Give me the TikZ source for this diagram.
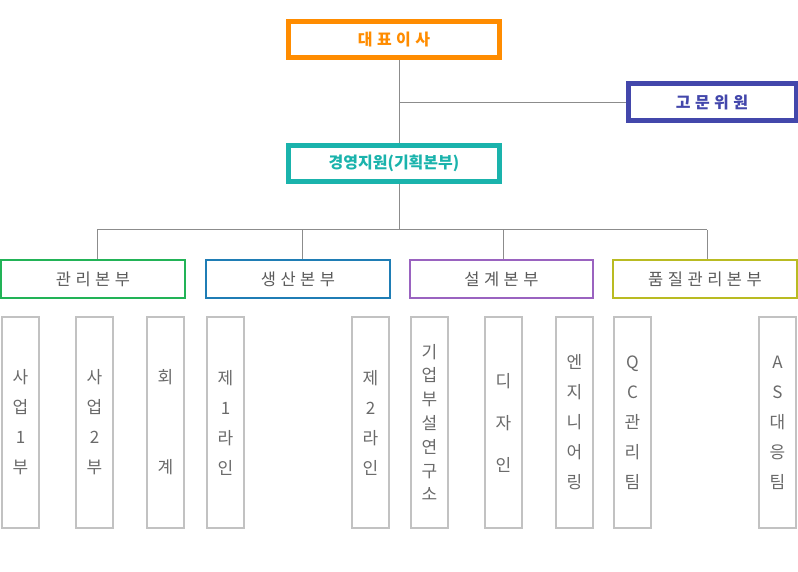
\documentclass[tikz,border=0pt]{standalone}
\usepackage{fontspec}
\newfontfamily\kr{Noto Sans CJK KR}
\definecolor{cOrange}{HTML}{FF8C00}
\definecolor{cNavy}{HTML}{4347AB}
\definecolor{cTeal}{HTML}{1AB3AC}
\definecolor{cGreen}{HTML}{22B357}
\definecolor{cBlue}{HTML}{1F7DB5}
\definecolor{cPurple}{HTML}{9A63C0}
\definecolor{cOlive}{HTML}{B9BB22}
\definecolor{cLine}{HTML}{8C8C8C}
\definecolor{cBox}{HTML}{C2C2C2}
\definecolor{cText}{HTML}{5A5A5A}
\definecolor{cLeafText}{HTML}{6A6A6A}
\tikzset{
  topbox/.style={draw, line width=5pt, rectangle, inner sep=0pt, minimum width=211pt, minimum height=36pt, font=\kr\bfseries\fontsize{16}{19}\selectfont},
  divbox/.style={draw, line width=2pt, rectangle, inner sep=0pt, minimum width=184pt, minimum height=38pt, text=cText, font=\kr\fontsize{16.5}{19}\selectfont},
  leafbox/.style={draw=cBox, line width=2pt, rectangle, inner sep=0pt, minimum width=37pt, minimum height=211pt, text=cLeafText, align=center},
  conn/.style={draw=cLine, line width=1pt},
}
\newcommand{\gsp}{\hspace{4.5pt}}
\begin{document}
\begin{tikzpicture}[x=1pt,y=-1pt]
\useasboundingbox (0,0) rectangle (798,572);
% top
\node[topbox, draw=cOrange, text=cOrange] (ceo) at (394,39.5) {대\gsp 표\gsp 이\gsp 사};
\node[topbox, draw=cNavy, text=cNavy, minimum width=168pt, minimum height=37pt] (adv) at (712,102.5) {고\gsp 문\gsp 위\gsp 원};
\node[topbox, draw=cTeal, text=cTeal] (mgmt) at (394,163.5) {경영지원(기획본부)};
% divisions
\node[divbox, draw=cGreen] (d1) at (93,279) {관\gsp 리\gsp 본\gsp 부};
\node[divbox, draw=cBlue] (d2) at (298,279) {생\gsp 산\gsp 본\gsp 부};
\node[divbox, draw=cPurple, minimum width=183pt] (d3) at (501.5,279) {설\gsp 계\gsp 본\gsp 부};
\node[divbox, draw=cOlive] (d4) at (705,279) {품\gsp 질\gsp 관\gsp 리\gsp 본\gsp 부};
% coordinates
\coordinate (trunk) at (399,0);
\coordinate (bus) at (0,230);
\coordinate (x1) at (97,0);
\coordinate (x2) at (302,0);
\coordinate (x3) at (503,0);
\coordinate (x4) at (707,0);
% connectors
\draw[conn] (ceo.south -| trunk) -- (mgmt.north -| trunk);
\draw[conn] (trunk |- adv.west) -- (adv.west);
\draw[conn] (mgmt.south -| trunk) -- (bus -| trunk);
\draw[conn] (bus -| x1) -- (bus -| x4);
\draw[conn] (bus -| x1) -- (d1.north -| x1);
\draw[conn] (bus -| x2) -- (d2.north -| x2);
\draw[conn] (bus -| x3) -- (d3.north -| x3);
\draw[conn] (bus -| x4) -- (d4.north -| x4);
% leaves
\tikzset{lf30/.style={font=\kr\fontsize{17}{30}\selectfont}}
\node[leafbox, lf30] (s1) at (20.5,422.5) {사\\업\\1\\부};
\node[leafbox, lf30] (s2) at (94.5,422.5) {사\\업\\2\\부};
\node[leafbox, lf30] (s3) at (165.5,422.5) {회\\[60pt]계};
\node[leafbox, lf30] (p1) at (225.5,422.5) {제\\1\\라\\인};
\node[leafbox, lf30] (p2) at (370.5,422.5) {제\\2\\라\\인};
\node[leafbox, font=\kr\fontsize{17}{23.8}\selectfont] (e1) at (429.5,422.5) {기\\업\\부\\설\\연\\구\\소};
\node[leafbox, font=\kr\fontsize{17}{42}\selectfont] (e2) at (503.5,422.5) {디\\자\\인};
\node[leafbox, lf30] (e3) at (574.5,422.5) {엔\\지\\니\\어\\링};
\node[leafbox, lf30] (q1) at (632.5,422.5) {Q\\C\\관\\리\\팀};
\node[leafbox, lf30] (q2) at (777.5,422.5) {A\\S\\대\\응\\팀};
\end{tikzpicture}
\end{document}
